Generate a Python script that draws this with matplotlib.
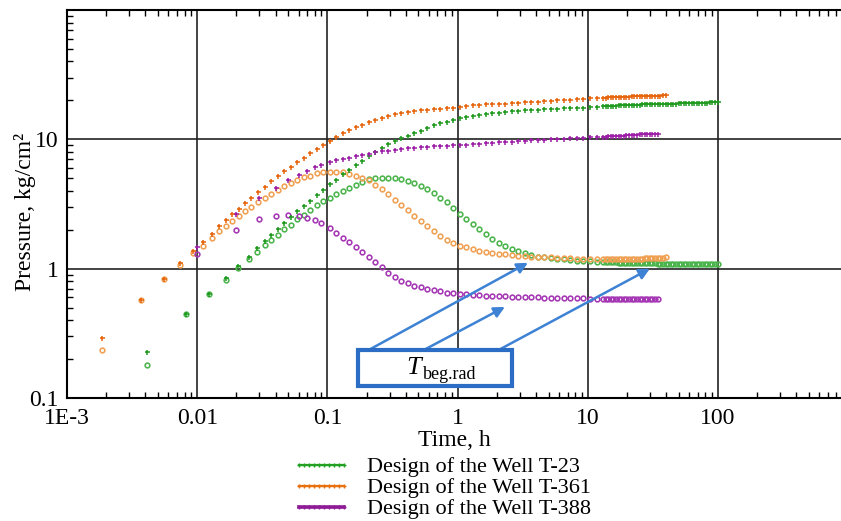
import numpy as np
import matplotlib
matplotlib.use('Agg')
import matplotlib.pyplot as plt
from matplotlib.lines import Line2D
from matplotlib.patches import Rectangle

plt.rcParams['font.family'] = ['Liberation Serif', 'DejaVu Serif']

# shared time grid (h): log-spaced middle part and dense late part
T_GRID = [0.0185, 0.0208, 0.0233, 0.0261, 0.0293, 0.0329, 0.0369, 0.0414, 0.0465, 0.0521,
          0.0585, 0.0656, 0.0736, 0.0826, 0.0927, 0.104, 0.117, 0.131, 0.147, 0.165,
          0.185, 0.208, 0.233, 0.261, 0.293, 0.329, 0.369, 0.414, 0.465, 0.521,
          0.585, 0.656, 0.736, 0.826, 0.927, 1.04, 1.17, 1.31, 1.47, 1.65,
          1.85, 2.08, 2.33, 2.61, 2.93, 3.29, 3.69, 4.14, 4.65, 5.21,
          5.85, 6.56, 7.36, 8.26, 9.27, 10.4, 11.7, 13.1]
T_LATE = [13.7, 14.4, 15.0, 15.7, 16.5, 17.3, 18.1, 18.9, 19.8, 20.8, 21.7, 22.8,
          23.8, 25.0, 26.1, 27.4, 28.7, 30.0, 31.4, 32.9, 34.5, 36.1, 37.8, 39.6,
          41.4, 43.4, 45.4, 47.6, 49.8, 52.2, 54.6, 57.2, 59.9, 62.7, 65.7, 68.7,
          72.0, 75.4, 78.9, 82.7, 86.6, 90.6, 94.9, 99.4]

# Well T-23
t23_early = [0.00413, 0.00826, 0.0124, 0.0165, 0.0207, 0.0248, 0.0289]
p23_early = [0.225, 0.445, 0.634, 0.848, 1.05, 1.24, 1.44]
p23_mid = [1.63, 1.83, 2.02, 2.25, 2.49, 2.78, 3.04, 3.36, 3.71, 4.09, 4.51, 4.88, 5.35,
           5.84, 6.31, 6.83, 7.43, 7.97, 8.51, 9.15, 9.73, 10.2, 10.6, 11.1, 11.7, 12.3,
           12.8, 13.3, 13.7, 14.2, 14.5, 14.8, 15.2, 15.5, 15.8, 15.9, 16.1, 16.3, 16.5,
           16.7, 16.8, 16.9, 17.0, 17.1, 17.2, 17.3, 17.4, 17.4, 17.5, 17.6, 17.7, 17.9, 18.0]
p23_late = [18.1, 18.1, 18.2, 18.2, 18.2, 18.3, 18.3, 18.3, 18.4, 18.4, 18.4, 18.5, 18.5,
            18.5, 18.6, 18.6, 18.6, 18.7, 18.7, 18.7, 18.8, 18.8, 18.8, 18.8, 18.9, 18.9,
            18.9, 18.9, 19.0, 19.0, 19.0, 19.0, 19.1, 19.1, 19.1, 19.1, 19.2, 19.2, 19.2,
            19.2, 19.3, 19.3, 19.3, 19.3]
d23_early = [0.180, 0.445, 0.634, 0.823, 1.01, 1.19, 1.35]
d23_mid = [1.53, 1.67, 1.82, 2.01, 2.17, 2.40, 2.60, 2.82, 3.10, 3.31, 3.50, 3.75, 4.01,
           4.24, 4.46, 4.66, 4.91, 4.98, 5.01, 5.01, 4.99, 4.94, 4.76, 4.56, 4.36, 4.10,
           3.84, 3.54, 3.25, 2.95, 2.67, 2.43, 2.20, 2.02, 1.84, 1.69, 1.59, 1.50, 1.41,
           1.36, 1.31, 1.27, 1.24, 1.22, 1.20, 1.19, 1.18, 1.16, 1.15, 1.15, 1.14, 1.13, 1.13]
d23_late = [1.12] * 5 + [1.11] * 6 + [1.10] * 9 + [1.09] * 11 + [1.08] * 13

# Well T-361
t361_early = [0.00185, 0.0037, 0.00555, 0.0074, 0.00925, 0.0111, 0.0130, 0.0148, 0.0167]
p361_early = [0.290, 0.577, 0.827, 1.11, 1.37, 1.62, 1.86, 2.12, 2.37]
p361_mid = [2.63, 2.89, 3.20, 3.52, 3.89, 4.30, 4.73, 5.16, 5.67, 6.12, 6.69, 7.23, 7.80,
            8.48, 9.04, 9.70, 10.5, 11.1, 11.8, 12.4, 12.9, 13.5, 14.1, 14.7, 15.2, 15.7,
            16.1, 16.4, 16.6, 16.8, 16.9, 17.1, 17.3, 17.4, 17.6, 17.8, 18.0, 18.3, 18.4,
            18.6, 18.7, 18.8, 18.9, 19.0, 19.2, 19.4, 19.5, 19.6, 19.7, 19.9, 20.0, 20.2,
            20.3, 20.4, 20.6, 20.7, 20.8, 20.9]
p361_late = [21.0, 21.1, 21.1, 21.2, 21.2, 21.3, 21.3, 21.3, 21.4, 21.4, 21.5, 21.5,
             21.5, 21.6, 21.6, 21.6, 21.7, 21.7, 21.7, 21.8, 21.8, 21.8, 21.9, 21.9]
d361_early = [0.234, 0.577, 0.827, 1.07, 1.32, 1.51, 1.72, 1.94, 2.12]
d361_mid = [2.33, 2.55, 2.77, 3.00, 3.26, 3.54, 3.81, 4.05, 4.35, 4.59, 4.86, 5.07, 5.24,
            5.45, 5.57, 5.62, 5.60, 5.55, 5.43, 5.23, 5.01, 4.82, 4.47, 4.12, 3.78, 3.42,
            3.12, 2.82, 2.55, 2.32, 2.12, 1.95, 1.80, 1.68, 1.58, 1.51, 1.46, 1.42, 1.38,
            1.35, 1.33, 1.30, 1.29, 1.27, 1.26, 1.25, 1.24, 1.23, 1.22, 1.22, 1.21, 1.20,
            1.20, 1.19, 1.19, 1.19, 1.19, 1.19]
d361_late = [1.19] * 15 + [1.20] * 8 + [1.22]

# Well T-388
t388_early = [0.01, 0.02, 0.03, 0.04, 0.05, 0.06, 0.07, 0.08, 0.09]
p388_early = [1.48, 2.64, 3.54, 4.20, 4.86, 5.26, 5.74, 6.06, 6.34]
p388_mid = [6.68, 6.87, 7.04, 7.23, 7.40, 7.53, 7.75, 7.93, 8.06, 8.19, 8.29, 8.41, 8.50,
            8.59, 8.69, 8.75, 8.83, 8.88, 8.90, 8.97, 9.06, 9.12, 9.18, 9.28, 9.35, 9.45,
            9.50, 9.55, 9.60, 9.65, 9.72, 9.81, 9.88, 9.95, 10.0, 10.05, 10.13, 10.18,
            10.23, 10.30, 10.36, 10.42, 10.49]
p388_late = [10.5, 10.6, 10.6, 10.6, 10.7, 10.7, 10.7, 10.7, 10.8, 10.8, 10.8, 10.8,
             10.8, 10.9, 10.9, 10.9, 10.9, 10.9, 11.0, 11.0, 11.0]
d388_early = [1.29, 2.00, 2.40, 2.57, 2.59, 2.57, 2.48, 2.37, 2.24]
d388_mid = [2.06, 1.90, 1.74, 1.60, 1.47, 1.35, 1.23, 1.12, 1.03, 0.932, 0.856, 0.810,
            0.775, 0.740, 0.719, 0.702, 0.684, 0.668, 0.654, 0.646, 0.639, 0.632, 0.628,
            0.622, 0.620, 0.617, 0.613, 0.610, 0.608, 0.606, 0.604, 0.602, 0.599, 0.597,
            0.595, 0.594, 0.592, 0.591, 0.590, 0.588, 0.587, 0.586, 0.585]
d388_late = [0.585] * 3 + [0.584] * 5 + [0.583] * 6 + [0.582] * 7

labels = ['Design of the Well T-23', 'Design of the Well T-361', 'Design of the Well T-388']
x_ticks = [1e-3, 0.01, 0.1, 1, 10, 100]
x_ticklabels = ['1E-3', '0.01', '0.1', '1', '10', '100']
y_ticks = [0.1, 1, 10, 100]
y_ticklabels = ['0.1', '1', '10', '']


def series(t_early, p_early, k0, p_mid, p_late):
    t = t_early + T_GRID[k0:k0 + len(p_mid)] + T_LATE[:len(p_late)]
    p = p_early + p_mid + p_late
    return np.array(t), np.array(p)


wells = [
    (t23_early, p23_early, d23_early, 5, p23_mid, d23_mid, p23_late, d23_late,
     '#1f9a1f', '#4cb44c', '#22a022'),
    (t361_early, p361_early, d361_early, 0, p361_mid, d361_mid, p361_late, d361_late,
     '#e6650c', '#f0a052', '#e8700f'),
    (t388_early, p388_early, d388_early, 15, p388_mid, d388_mid, p388_late, d388_late,
     '#9c1ea6', '#a536b4', '#8e1a96'),
]

fig = plt.figure(figsize=(8.41, 5.21), dpi=100)
ax = fig.add_axes([67 / 841, 123 / 521, 774 / 841, 388 / 521])

handles = []
for (te, pe, de, k0, pm, dm, pl, dl, c_p, c_d, c_leg), lab in zip(wells, labels):
    t, p = series(te, pe, k0, pm, pl)
    td, d = series(te, de, k0, dm, dl)
    ax.plot(td, d, linestyle='none', marker='o', markersize=3.4, mfc='none',
            mec=c_d, mew=1.15, zorder=3)
    ax.plot(t, p, linestyle='none', marker='+', markersize=3.6, mec=c_p, mew=1.1, zorder=4)
    handles.append(Line2D([], [], color=c_leg, lw=1.6 if lab != labels[2] else 2.6,
                          marker='+', markersize=3, mew=1.0, label=lab))

ax.set_xscale('log')
ax.set_yscale('log')
ax.set_xticks(x_ticks)
ax.set_xticklabels(x_ticklabels)
ax.set_yticks(y_ticks)
ax.set_yticklabels(y_ticklabels)
ax.set_xlim(1e-3, 10 ** 2.945)
ax.set_ylim(0.1, 100)
ax.tick_params(which='both', direction='in', labelsize=17, top=True, right=False)
ax.tick_params(which='major', length=0)
ax.tick_params(axis='x', which='major', pad=7)
ax.tick_params(axis='y', which='major', pad=6)
ax.tick_params(which='minor', length=4, width=1)
ax.grid(True, which='major', color='#222222', lw=1.2)
ax.set_axisbelow(True)
ax.spines['right'].set_visible(False)
for s in ['left', 'bottom', 'top']:
    ax.spines[s].set_linewidth(1.5)

ax.set_xlabel('Time, h', fontsize=17, labelpad=1)
ax.set_ylabel('Pressure, kg/cm²', fontsize=17)
ax.yaxis.set_label_coords(-0.04, 0.48)

# T beg.rad annotation
box_color = '#2b6cc4'
arrow_color = '#3d82d4'
ax.add_patch(Rectangle((0.172, 0.1237), 2.62 - 0.172, 0.234 - 0.1237, facecolor='white',
                       edgecolor=box_color, lw=3, zorder=6))
ax.text(0.524, 0.153, 'T', fontsize=19, style='italic', ha='right', va='baseline', zorder=7)
ax.text(0.545, 0.141, 'beg.rad', fontsize=13, ha='left', va='baseline', zorder=7)
starts = [(0.206, 0.234), (0.546, 0.234), (2.05, 0.234)]
tips = [(3.47, 1.11), (2.31, 0.506), (30.0, 1.0)]
for s, e in zip(starts, tips):
    ax.annotate('', xy=e, xytext=s, zorder=5,
                arrowprops=dict(arrowstyle='-|>', color=arrow_color, lw=1.8,
                                mutation_scale=16, shrinkA=0, shrinkB=0))

fig.legend(handles=handles, loc='center', bbox_to_anchor=(442 / 841, 1 - 488 / 521),
           frameon=False, fontsize=16, handlelength=2.6, handletextpad=0.75,
           labelspacing=0.02, borderpad=0, numpoints=10)

fig.savefig('out.png', dpi=100)
